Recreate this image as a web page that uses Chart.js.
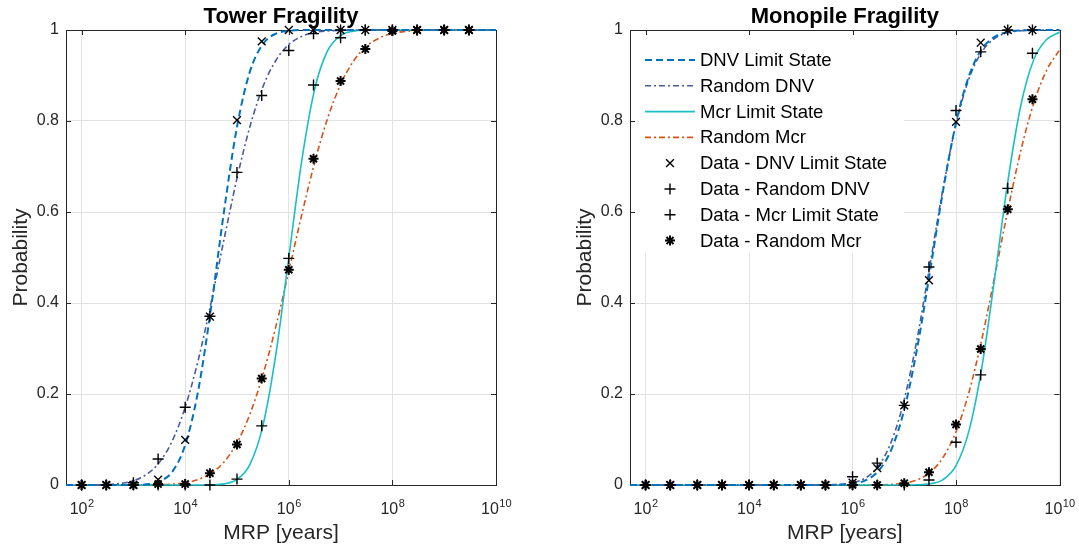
<!DOCTYPE html>
<html>
<head>
<meta charset="utf-8">
<script src="https://cdn.jsdelivr.net/npm/chart.js@4.4.1/dist/chart.umd.min.js"></script>
<style>
  html, body { margin: 0; padding: 0; background: #fff; }
  #wrap { position: relative; width: 1079px; height: 549px; overflow: hidden; }
  .panel { position: absolute; top: 0; height: 549px; }
</style>
</head>
<body>
<div id="wrap">
  <div class="panel" style="left:0;width:540px"><canvas id="tower" width="540" height="549"></canvas></div>
  <div class="panel" style="left:540px;width:539px"><canvas id="monopile" width="539" height="549"></canvas></div>
</div>
<script>
// ---- data ----
const dataMRP = [1e2, 3e2, 1e3, 3e3, 1e4, 3e4, 1e5, 3e5, 1e6, 3e6, 1e7, 3e7, 1e8, 3e8, 1e9, 3e9];
const curveMRP = [50, 1e2, 1.78e2, 3.16e2, 5.62e2, 1e3, 1.78e3, 3.16e3, 5.62e3, 1e4, 1.78e4, 3.16e4, 5.62e4,
  1e5, 1.78e5, 3.16e5, 5.62e5, 1e6, 1.78e6, 3.16e6, 5.62e6, 1e7, 1.78e7, 3.16e7, 5.62e7,
  1e8, 1.78e8, 3.16e8, 5.62e8, 1e9, 1.78e9, 3.16e9, 5.62e9, 1e10];

const xTicks = [1e2, 1e4, 1e6, 1e8, 1e10];
const xTickExponents = ['2', '4', '6', '8', '10'];
const yTicks = [0, 0.2, 0.4, 0.6, 0.8, 1];
const yTickLabels = ['0', '0.2', '0.4', '0.6', '0.8', '1'];

const lineNames = ['DNV Limit State', 'Random DNV', 'Mcr Limit State', 'Random Mcr'];
const markNames = ['Data - DNV Limit State', 'Data - Random DNV', 'Data - Mcr Limit State', 'Data - Random Mcr'];

// Tower - fitted curves
const towerDnvFit = [0, 0, 0, 0, 0, 0.0002, 0.0015, 0.0075, 0.029, 0.088, 0.207, 0.390, 0.602, 0.787, 0.909, 0.969, 0.992, 0.998,
  1, 1, 1, 1, 1, 1, 1, 1, 1, 1, 1, 1, 1, 1, 1, 1];
const towerRandDnvFit = [0, 0.0001, 0.0003, 0.0011, 0.0035, 0.0094, 0.0228, 0.0495, 0.0968, 0.171, 0.274, 0.401, 0.540, 0.674,
  0.788, 0.875, 0.933, 0.968, 0.986, 0.995, 0.998, 0.9994, 1, 1, 1, 1, 1, 1, 1, 1, 1, 1, 1, 1];
const towerMcrFit = [0, 0, 0, 0, 0, 0, 0, 0, 0, 0, 0, 0.0004, 0.0025, 0.0122, 0.0455, 0.130, 0.287, 0.5, 0.713, 0.870,
  0.9545, 0.9878, 0.9975, 0.9996, 1, 1, 1, 1, 1, 1, 1, 1, 1, 1];
const towerRandMcrFit = [0, 0, 0, 0, 0, 0.0001, 0.0002, 0.0007, 0.0019, 0.005, 0.0119, 0.0256, 0.0505, 0.0926, 0.156, 0.242,
  0.348, 0.470, 0.594, 0.709, 0.806, 0.880, 0.932, 0.964, 0.9826, 0.9923, 0.9969, 0.9989, 0.9996, 1, 1, 1, 1, 1];
// Tower - data points
const towerDnvData = [0, 0, 0, 0.012, 0.099, 0.37, 0.802, 0.975, 1, 1, 1, 1, 1, 1, 1, 1];
const towerRandDnvData = [0, 0, 0.005, 0.057, 0.171, 0.371, 0.687, 0.856, 0.955, 0.992, 1, 1, 1, 1, 1, 1];
const towerMcrData = [0, 0, 0, 0, 0, 0, 0.013, 0.13, 0.498, 0.879, 0.983, 1, 1, 1, 1, 1];
const towerRandMcrData = [0, 0, 0, 0.002, 0.002, 0.026, 0.089, 0.234, 0.473, 0.717, 0.888, 0.958, 0.998, 1, 1, 1];

// Monopile - fitted curves
const monoDnvFit = [0, 0, 0, 0, 0, 0, 0, 0, 0, 0, 0, 0, 0, 0, 0, 0.0001, 0.0006, 0.0028, 0.0102, 0.0307, 0.0778, 0.166,
  0.3015, 0.471, 0.647, 0.796, 0.899, 0.958, 0.9853, 0.9957, 0.999, 0.9998, 1, 1];
const monoRandDnvFit = [0, 0, 0, 0, 0, 0, 0, 0, 0, 0, 0, 0, 0, 0, 0.0001, 0.0003, 0.0013, 0.0049, 0.0154, 0.0415, 0.0953,
  0.188, 0.323, 0.486, 0.652, 0.793, 0.893, 0.952, 0.9817, 0.9941, 0.9984, 0.9996, 1, 1];
const monoMcrFit = [0, 0, 0, 0, 0, 0, 0, 0, 0, 0, 0, 0, 0, 0, 0, 0, 0, 0, 0, 0, 0, 0.0001, 0.0004, 0.0026, 0.0119, 0.0427,
  0.119, 0.259, 0.457, 0.666, 0.833, 0.934, 0.979, 0.995];
const monoRandMcrFit = [0, 0, 0, 0, 0, 0, 0, 0, 0, 0, 0, 0, 0, 0, 0, 0, 0, 0, 0.0001, 0.0004, 0.0013, 0.0041, 0.0113,
  0.0278, 0.0606, 0.117, 0.204, 0.321, 0.460, 0.603, 0.734, 0.838, 0.911, 0.956];
// Monopile - data points
const monoDnvData = [0, 0, 0, 0, 0, 0, 0, 0, 0.005, 0.037, 0.175, 0.45, 0.798, 0.972, 1, 1];
const monoRandDnvData = [0, 0, 0, 0, 0, 0, 0, 0, 0.018, 0.048, 0.175, 0.479, 0.823, 0.952, 1, 1];
const monoMcrData = [0, 0, 0, 0, 0, 0, 0, 0, 0, 0, 0, 0.011, 0.094, 0.242, 0.652, 0.949];
const monoRandMcrData = [0, 0, 0, 0, 0, 0, 0, 0, 0, 0, 0.004, 0.028, 0.133, 0.299, 0.606, 0.848];

// ---- styles ----
const FONT = 'Liberation Sans, Arial, Helvetica, sans-serif';
const AX = '#262626';
Chart.defaults.font.family = FONT;

const lineStyles = [
  { color: '#0072BD', dash: [7, 4], width: 2 },
  { color: '#4A5C9A', dash: [6, 3, 2, 3], width: 1.6 },
  { color: '#19BFC3', dash: [], width: 1.6 },
  { color: '#D95319', dash: [6, 3, 2, 3], width: 1.6 }
];
const markStyles = [
  { style: 'crossRot', r: 5.5, w: 1.4 },
  { style: 'cross', r: 5.5, w: 1.4 },
  { style: 'cross', r: 5.5, w: 1.4 },
  { style: 'star', r: 5, w: 2 }
];

const xy = (xs, ys) => xs.map((x, i) => ({ x, y: ys[i] }));

function buildDatasets(fits, marks) {
  const sets = [];
  fits.forEach((ys, i) => sets.push({
    label: lineNames[i], data: xy(curveMRP, ys), showLine: true, pointRadius: 0,
    borderColor: lineStyles[i].color, borderDash: lineStyles[i].dash, borderWidth: lineStyles[i].width,
    cubicInterpolationMode: 'monotone', clip: false, order: 1
  }));
  marks.forEach((ys, i) => sets.push({
    label: markNames[i], data: xy(dataMRP, ys), showLine: false,
    pointStyle: markStyles[i].style, pointRadius: markStyles[i].r, pointBorderWidth: markStyles[i].w,
    pointBorderColor: '#000', pointBackgroundColor: 'rgba(0,0,0,0)', clip: false, order: 0
  }));
  return sets;
}

// frame with inward ticks, 10^n labels and optional in-axes legend
const framePlugin = {
  id: 'frame',
  beforeDatasetsDraw(chart, args, opts) {
    const { ctx, chartArea: a, scales: { x, y } } = chart;
    if (opts.legend) {
      ctx.save();
      ctx.fillStyle = '#fff';
      ctx.fillRect(a.left + 1, a.top + 2, opts.legend.width, opts.legend.height);
      ctx.restore();
    }
    ctx.save();
    ctx.strokeStyle = AX;
    ctx.lineWidth = 1;
    ctx.strokeRect(Math.round(a.left) + 0.5, Math.round(a.top) + 0.5,
      Math.round(a.right - a.left), Math.round(a.bottom - a.top));
    const t = 5;
    ctx.beginPath();
    xTicks.forEach(v => {
      const px = Math.round(x.getPixelForValue(v)) + 0.5;
      ctx.moveTo(px, a.bottom); ctx.lineTo(px, a.bottom - t);
      ctx.moveTo(px, a.top); ctx.lineTo(px, a.top + t);
    });
    yTicks.forEach(v => {
      const py = Math.round(y.getPixelForValue(v)) + 0.5;
      ctx.moveTo(a.left, py); ctx.lineTo(a.left + t, py);
      ctx.moveTo(a.right, py); ctx.lineTo(a.right - t, py);
    });
    ctx.stroke();

    // x tick labels as 10 with raised exponent
    ctx.fillStyle = AX;
    ctx.textBaseline = 'alphabetic';
    ctx.textAlign = 'left';
    xTicks.forEach((v, i) => {
      const px = x.getPixelForValue(v);
      ctx.font = '16px ' + FONT;
      const wb = ctx.measureText('10').width;
      ctx.font = '11px ' + FONT;
      const we = ctx.measureText(xTickExponents[i]).width;
      const x0 = px - (wb + we) / 2;
      ctx.font = '16px ' + FONT;
      ctx.fillText('10', x0, a.bottom + 28.5);
      ctx.font = '11px ' + FONT;
      ctx.fillText(xTickExponents[i], x0 + wb + 0.5, a.bottom + 21.5);
    });
    ctx.restore();

    if (opts.legend) {
      const L = opts.legend;
      ctx.save();
      ctx.font = L.fontSize + 'px ' + FONT;
      ctx.textBaseline = 'middle';
      ctx.fillStyle = '#000';
      chart.data.datasets.forEach((ds, i) => {
        const cy = a.top + L.firstRow + i * L.rowGap;
        const x0 = a.left + L.lineStart, x1 = x0 + L.lineLen;
        if (ds.showLine) {
          ctx.save();
          ctx.strokeStyle = ds.borderColor;
          ctx.lineWidth = ds.borderWidth;
          ctx.setLineDash(ds.borderDash);
          ctx.beginPath(); ctx.moveTo(x0, cy); ctx.lineTo(x1, cy); ctx.stroke();
          ctx.restore();
        } else {
          ctx.save();
          ctx.strokeStyle = '#000';
          ctx.lineWidth = ds.pointBorderWidth;
          Chart.helpers.drawPoint(ctx, { pointStyle: ds.pointStyle, radius: ds.pointRadius,
            borderWidth: ds.pointBorderWidth, rotation: 0 }, (x0 + x1) / 2, cy);
          ctx.restore();
        }
        ctx.fillText(ds.label, x1 + L.textGap, cy + 1);
      });
      ctx.restore();
    }
  }
};

function makeChart(id, title, fits, marks, pad, legend) {
  return new Chart(document.getElementById(id), {
    type: 'scatter',
    data: { datasets: buildDatasets(fits, marks) },
    plugins: [framePlugin],
    options: {
      responsive: false, animation: false, events: [],
      layout: { padding: pad },
      plugins: {
        legend: { display: false },
        tooltip: { enabled: false },
        title: { display: true, text: title, color: '#000', fullSize: false,
          font: { size: 22, weight: 'bold' }, padding: { top: 3.5, bottom: 0.1 } },
        frame: { legend: legend }
      },
      scales: {
        x: {
          type: 'logarithmic', min: 50, max: 1e10,
          afterBuildTicks: s => { s.ticks = xTicks.map(v => ({ value: v })); },
          afterFit: s => { s.height = 64; },
          grid: { color: '#e2e2e2', drawTicks: false },
          border: { display: false },
          ticks: { display: false },
          title: { display: true, text: 'MRP [years]', color: AX, font: { size: 21 },
            padding: { top: 0, bottom: 3 } }
        },
        y: {
          min: 0, max: 1,
          afterBuildTicks: s => { s.ticks = yTicks.map(v => ({ value: v })); },
          afterFit: s => { s.width = 66; },
          grid: { color: '#e2e2e2', drawTicks: false },
          border: { display: false },
          ticks: { color: AX, padding: 7, font: { size: 16 }, callback: (v, i) => yTickLabels[i] },
          title: { display: true, text: 'Probability', color: AX, font: { size: 21 },
            padding: { top: 8.5, bottom: 0 } }
        }
      }
    }
  });
}

makeChart('tower', 'Tower Fragility',
  [towerDnvFit, towerRandDnvFit, towerMcrFit, towerRandMcrFit],
  [towerDnvData, towerRandDnvData, towerMcrData, towerRandMcrData],
  { left: 0, right: 44, top: 0, bottom: 0 }, null);

makeChart('monopile', 'Monopile Fragility',
  [monoDnvFit, monoRandDnvFit, monoMcrFit, monoRandMcrFit],
  [monoDnvData, monoRandDnvData, monoMcrData, monoRandMcrData],
  { left: 24, right: 19.5, top: 0, bottom: 0 },
  { width: 273, height: 221, firstRow: 30, rowGap: 25.8, lineStart: 15, lineLen: 50, textGap: 5, fontSize: 18.5 });
</script>
</body>
</html>
